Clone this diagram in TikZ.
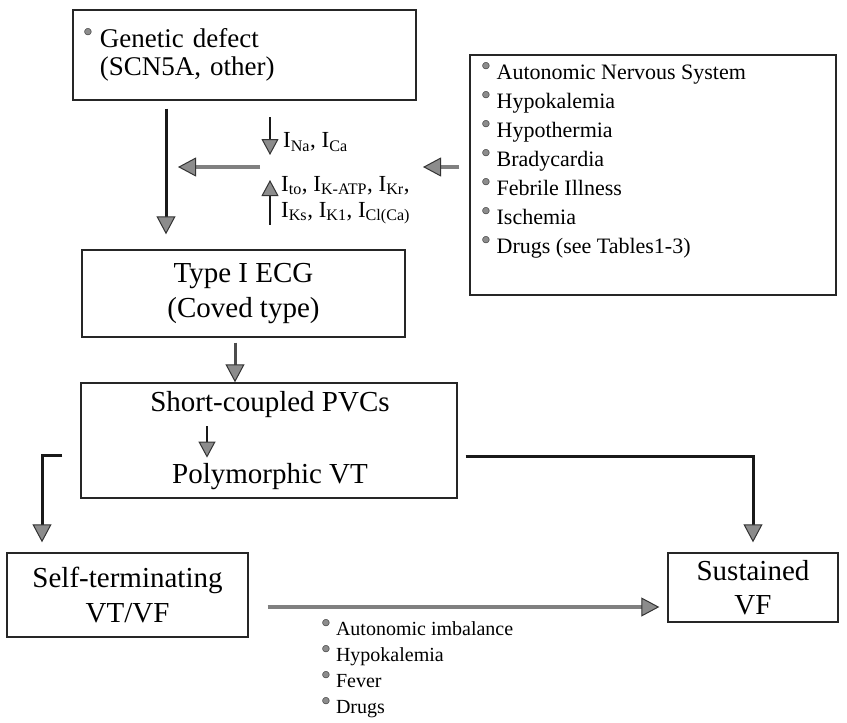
\documentclass[tikz,border=0pt]{standalone}
\usepackage{fontspec}
\setmainfont{Liberation Serif}
\newfontfamily\dejavu{DejaVu Sans}
\usetikzlibrary{arrows.meta}

% small grey bullet with a dark rim
\newcommand{\blt}{\raisebox{0.5em}{\dejavu\fontsize{9}{9}\selectfont\rlap{\textcolor{black!45}{●}}\textcolor{black!80}{○}}\hspace{0.3em}}

\tikzset{
    box/.style={draw=black!85, line width=1.4pt, inner sep=0pt},
    big/.style={font=\fontsize{29}{35}\selectfont, align=center},
    gentext/.style={font=\fontsize{27}{28}\selectfont, align=left},
    list/.style={font=\fontsize{22}{29}\selectfont, align=left, inner sep=0pt},
    smalllist/.style={font=\fontsize{20}{26}\selectfont, align=left, inner sep=0pt},
    ion/.style={font=\fontsize{23}{26}\selectfont, align=left, inner sep=0pt},
    tip/.style={-{Triangle[width=19pt, length=18pt, color=black!80, fill=black!45, line width=1pt]}},
    heavy/.style={tip, draw=black!90, line width=3pt},
    grey/.style={tip, draw=black!50, line width=3.4pt},
    thin/.style={-{Triangle[width=17pt, length=16pt, color=black!80, fill=black!45, line width=1pt]}, draw=black!90, line width=2.6pt},
}

\begin{document}
\begin{tikzpicture}[x=1pt, y=-1pt]
    \useasboundingbox (0,0) rectangle (847,723);

    % Boxes
    \node[box, gentext, minimum width=343, minimum height=90, text width=321pt] (gen) at (244.5,55)
        {\blt Genetic defect\\\phantom{\blt}(SCN5A, other)};
    \node[box, minimum width=366, minimum height=240] (rf) at (653,175) {};
    \node[list, anchor=north west] (rflist) at (482,62)
        {\blt Autonomic Nervous System\\
         \blt Hypokalemia\\
         \blt Hypothermia\\
         \blt Bradycardia\\
         \blt Febrile Illness\\
         \blt Ischemia\\
         \blt Drugs (see Tables1-3)};
    \node[box, big, minimum width=323, minimum height=87] (ecg) at (243.5,293.5) {Type I ECG\\(Coved type)};
    \node[box, minimum width=376, minimum height=115] (pvc) at (269,440.5) {};
    \node[big, inner sep=2pt] (sc) at (270,405) {Short-coupled PVCs};
    \node[big, inner sep=2pt] (poly) at (270,477) {Polymorphic VT};
    \node[box, big, minimum width=241, minimum height=84] (self) at (127.5,595) {Self-terminating\\VT/VF};
    \node[box, big, minimum width=170, minimum height=69, font=\fontsize{29}{34}\selectfont] (sus) at (753,587.5) {Sustained\\VF};

    % Ion currents
    \node[ion, anchor=west] (ina) at (283,142) {I\textsubscript{Na}, I\textsubscript{Ca}};
    \node[ion, anchor=north west] (ito) at (281,176)
        {I\textsubscript{to}, I\textsubscript{K-ATP}, I\textsubscript{Kr},\\
         I\textsubscript{Ks}, I\textsubscript{K1}, I\textsubscript{Cl(Ca)}};
    \draw[thin] ([xshift=-13pt,yshift=25pt]ina.west) -- ([xshift=-13pt,yshift=-13pt]ina.west);
    \draw[thin] ([xshift=-11pt]ito.south west) -- ([xshift=-11pt,yshift=-4pt]ito.north west);

    % Arrows
    \coordinate (trunk) at (166,167);
    \coordinate (join) at (260,167);
    \coordinate (ionr) at (423,167);
    \draw[heavy, shorten <=8pt, shorten >=15pt] (gen.south -| trunk) -- (ecg.north -| trunk);
    \draw[grey, shorten >=12pt] (join) -- (trunk);
    \draw[grey, shorten <=10pt] (rf.west |- trunk) -- (ionr);

    \draw[heavy, draw=black!70, shorten <=5pt] ([xshift=-8.5pt]ecg.south) -- ([xshift=-8.5pt]ecg.south |- pvc.north);
    \draw[thin, shorten <=6pt, shorten >=4pt] ([xshift=-63pt]sc.south) -- ([xshift=-63pt]sc.south |- poly.north);

    \draw[heavy, shorten >=10pt] ([xshift=-18pt,yshift=-14.5pt]pvc.west) -| ([xshift=-85.5pt]self.north);
    \draw[heavy, shorten >=10pt] ([xshift=8pt,yshift=-15.5pt]pvc.east) -| (sus.north);

    \coordinate (s0) at ([xshift=19pt,yshift=-12pt]self.east);
    \draw[grey, shorten >=8pt] (s0) -- (s0 -| sus.west);

    % Triggers
    \node[smalllist, anchor=north west] (trig) at (322,619)
        {\blt Autonomic imbalance\\
         \blt Hypokalemia\\
         \blt Fever\\
         \blt Drugs};

\end{tikzpicture}
\end{document}
